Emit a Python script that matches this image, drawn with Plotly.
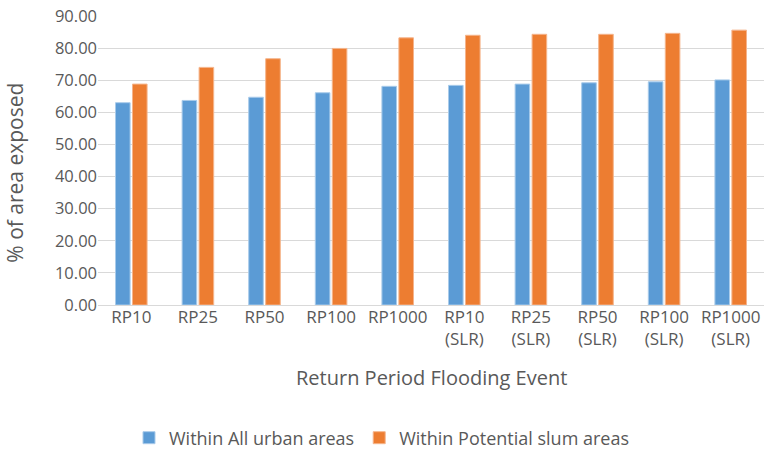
import plotly.graph_objects as go

categories = ["RP10", "RP25", "RP50", "RP100", "RP1000",
              "RP10<br>(SLR)", "RP25<br>(SLR)", "RP50<br>(SLR)", "RP100<br>(SLR)", "RP1000<br>(SLR)"]
urban = [63.0, 63.7, 64.7, 66.1, 68.1, 68.4, 68.8, 69.2, 69.5, 70.1]
slum = [68.8, 74.0, 76.7, 79.9, 83.2, 84.0, 84.3, 84.3, 84.6, 85.6]
series_names = ["Within All urban areas", "Within Potential slum areas"]
y_ticks = [0, 10, 20, 30, 40, 50, 60, 70, 80, 90]
x_title = "Return Period Flooding Event"
y_title = "% of area exposed"

FONT = "Open Sans"
GREY = "#595959"

fig = go.Figure()
fig.add_trace(go.Bar(x=categories, y=urban, name=series_names[0],
                     marker=dict(color="#5B9BD5", line=dict(color="#A9CBEA", width=1))))
fig.add_trace(go.Bar(x=categories, y=slum, name=series_names[1],
                     marker=dict(color="#ED7D31", line=dict(color="#F5B58C", width=1))))

fig.update_layout(
    width=764, height=449,
    margin=dict(l=98, r=0, t=16, b=144, autoexpand=False),
    paper_bgcolor="white", plot_bgcolor="white",
    barmode="group", bargap=0.49, bargroupgap=0.14,
    font=dict(family=FONT, color=GREY, size=15),
    showlegend=True,
    legend=dict(orientation="h", xref="container", yref="container",
                x=0.5, xanchor="center", y=0.0245, yanchor="middle",
                font=dict(size=18, color=GREY), itemwidth=30,
                traceorder="normal"),
    xaxis=dict(
        tickfont=dict(size=17, color=GREY),
        showgrid=False, showline=False, ticks="", ticklen=2,
        automargin=False,
    ),
    yaxis=dict(
        range=[0, 90], tickvals=y_ticks,
        ticktext=[f"{v:.2f}" for v in y_ticks],
        tickfont=dict(size=16.5, color=GREY),
        showgrid=True, gridcolor="#D9D9D9", gridwidth=1,
        zeroline=True, zerolinecolor="#D9D9D9", zerolinewidth=1,
        showline=False, ticks="", ticklen=0,
        automargin=False,
    ),
    annotations=[
        dict(text=x_title, xref="paper", yref="paper", x=0.5, y=-0.252,
             xanchor="center", yanchor="middle", showarrow=False,
             font=dict(size=20, color=GREY)),
        dict(text=y_title, xref="paper", yref="paper", x=-0.1246, y=0.458,
             xanchor="center", yanchor="middle", showarrow=False, textangle=-90,
             font=dict(size=21, color=GREY)),
    ],
)

fig.write_html("out.html", config={"displayModeBar": False},
               post_script="document.body.style.margin='0';document.body.style.overflow='hidden';")
